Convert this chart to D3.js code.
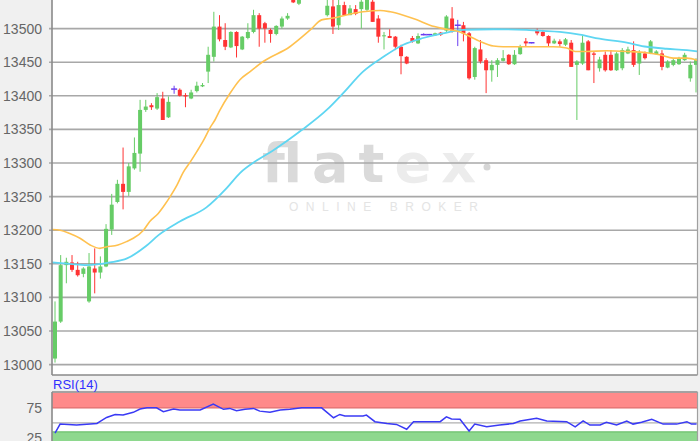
<!DOCTYPE html>
<html>
<head>
<meta charset="utf-8">
<script src="https://cdn.jsdelivr.net/npm/d3@7"></script>
<style>
  body { margin: 0; background: #f0f0f0; }
  svg { display: block; }
</style>
</head>
<body>
<div id="chart"></div>
<script>
// OHLC per candle
const opens = [13009,13064,13148,13152,13141,13135,13094,13143,13137,13146,13201,13242,13269,13257,13292,13314,13379,13386,13381,13396,
  13368,13410,13409,13401,13396,13407,13414,13436,13458,13503,13483,13472,13495,13469,13486,13495,13520,13508,13498,13492,
  13503,13515,13550,13537,13552,13562,13555,13565,13520,13533,13505,13535,13520,13529,13529,13528,13540,13515,13489,13489,
  13488,13473,13458,13486,13478,13491,13491,13490,13494,13497,13515,13505,13505,13493,13428,13469,13453,13438,13446,13452,
  13461,13447,13462,13481,13479,13498,13495,13489,13478,13481,13476,13479,13446,13448,13481,13463,13441,13461,13461,13438,
  13441,13463,13468,13448,13463,13463,13462,13463,13442,13446,13447,13453,13426,13446];
const highs = [13094,13163,13159,13163,13153,13145,13166,13173,13161,13209,13254,13275,13323,13300,13338,13394,13394,13389,13404,13406,
  13399,13415,13411,13404,13409,13421,13419,13473,13525,13520,13508,13496,13496,13489,13508,13528,13523,13510,13500,13505,
  13518,13523,13555,13560,13568,13570,13572,13570,13543,13543,13543,13540,13535,13535,13543,13550,13543,13520,13495,13499,
  13489,13476,13459,13489,13493,13493,13492,13494,13495,13520,13532,13513,13510,13495,13473,13483,13456,13453,13456,13468,
  13462,13468,13476,13486,13480,13500,13498,13490,13485,13484,13486,13483,13453,13490,13483,13466,13458,13466,13468,13465,
  13471,13473,13481,13468,13466,13483,13468,13468,13453,13456,13458,13464,13451,13456];
const lows = [13003,13062,13121,13138,13131,13130,13092,13106,13128,13145,13193,13240,13231,13251,13290,13287,13376,13379,13379,13364,
  13367,13403,13399,13383,13395,13405,13413,13419,13451,13481,13468,13471,13457,13468,13484,13493,13473,13479,13479,13490,
  13500,13513,13538,13535,13548,13550,13550,13545,13518,13492,13498,13519,13520,13520,13500,13525,13510,13479,13469,13486,
  13468,13432,13447,13479,13477,13490,13490,13489,13489,13495,13494,13474,13481,13424,13424,13448,13404,13421,13428,13451,
  13446,13446,13461,13473,13478,13490,13488,13473,13477,13473,13474,13443,13364,13446,13438,13419,13436,13436,13437,13437,
  13438,13462,13443,13431,13454,13462,13461,13438,13441,13444,13446,13452,13421,13405];
const closes = [13064,13148,13153,13141,13133,13143,13146,13137,13146,13202,13238,13269,13257,13295,13315,13379,13384,13383,13398,13364,
  13391,13410,13400,13399,13405,13415,13416,13461,13503,13484,13473,13495,13474,13488,13495,13520,13500,13500,13492,13504,
  13515,13519,13539,13554,13562,13555,13565,13548,13534,13503,13535,13520,13530,13522,13540,13546,13510,13488,13490,13486,
  13473,13459,13448,13481,13489,13491,13491,13493,13491,13518,13497,13505,13493,13426,13471,13451,13438,13446,13453,13456,
  13447,13461,13474,13478,13479,13493,13489,13478,13482,13477,13484,13443,13451,13479,13438,13461,13454,13438,13438,13463,
  13468,13469,13446,13464,13456,13481,13466,13443,13451,13453,13456,13461,13446,13453];

// moving averages as [candle index, value]
const maFast = [[-0.5,13201],[0.9,13200],[2.6,13195],[4.4,13188],[6.2,13178],[7.9,13173],[9,13175],[11.1,13178],[12.6,13183],
  [13.8,13188],[15.6,13200],[16.7,13213],[18.2,13225],[19.1,13235],[20.3,13250],[21.5,13267],[22.6,13286],[23.8,13301],
  [25,13317],[26.2,13334],[27.3,13352],[28.2,13364],[29.1,13379],[30.8,13403],[32.6,13424],[34.4,13436],[36.7,13451],
  [41.4,13473],[45,13498],[47,13513],[48.5,13515],[54.3,13525],[57.3,13527],[59.1,13525],[61.4,13520],[63.8,13513],
  [66.1,13505],[68.4,13500],[71.4,13495],[73.2,13488],[74.9,13481],[77.3,13474],[79,13473],[83.1,13473],[87.8,13473],
  [90.2,13471],[91.7,13466],[93.7,13466],[97.2,13467],[100.8,13466],[104.3,13464],[106.6,13461],[109,13456],[111.4,13456],[113.2,13453]];
const maSlow = [[-0.5,13152],[2.6,13150],[5.6,13148],[9.7,13152],[12.7,13158],[16,13176],[18.3,13193],[22,13213],
  [26.7,13234],[30.3,13263],[32.6,13285],[35.6,13304],[38.5,13319],[43.5,13349],[47.9,13379],[50.8,13404],[54.3,13436],
  [57.9,13458],[61.4,13476],[64.9,13486],[68.4,13493],[72,13498],[77.3,13499],[83.1,13498],[89,13495],[92.5,13491],
  [96,13485],[100.8,13479],[104.3,13473],[107.8,13470],[111.4,13468],[113.2,13466]];

// RSI(14) as [candle index, value]
const rsi = [[0,33],[0.9,48],[3.8,46.5],[7.4,49],[7.9,52],[9.1,59],[10.6,64],[12,63],[13.8,67.5],[15,73],[16.2,75],[17.9,75],
  [19.1,68.5],[20.9,73],[22,71.5],[25.6,71.5],[27.9,81],[29.7,72.5],[30.8,74],[32,70],[33.5,72.5],[35,74],[36.1,69.5],
  [37.9,67.5],[39.7,71.5],[41.4,72.5],[43.5,75],[47,75],[49.1,58.5],[50.2,64],[51.1,61.5],[54.3,61.5],[54.9,63],[56.4,52],
  [58.5,49],[60.2,47.5],[62,39.5],[63.2,52],[67.9,52],[69,60],[69.9,56.5],[71.4,56],[73,36.5],[74,48],[76.1,43.5],[78.4,46.5],
  [80.8,49],[82,53],[84.9,57.5],[86.7,53],[90.2,52],[91.7,43.5],[93.1,53.5],[94.3,46.5],[96.1,46.5],[97.2,51],[99,46.5],
  [100.8,53],[101.9,48],[103.4,51],[105.2,56],[107.2,48],[109.6,48],[111.4,52],[112.2,48],[113.1,48]];

const priceTicks = [13000,13050,13100,13150,13200,13250,13300,13350,13400,13450,13500,13550];
const rsiTicks = [25, 75];
const rsiHigh = [75, 100];
const rsiLow = [0, 35];

const W = 700, H = 441;
const plotL = 52, plotR = 697.5, plotT = -20, plotB = 375;
const rsiT = 392;

const svg = d3.select("#chart").append("svg")
  .attr("width", W).attr("height", H)
  .style("background", "#f0f0f0");

const x = d3.scaleLinear().domain([0, opens.length - 1]).range([55, 696]);
const y = d3.scaleLinear().domain([13000, 13500]).range([364.6, 28.6]);
const ry = d3.scaleLinear().domain([0, 100]).range([453.1, 392.7]);

svg.append("clipPath").attr("id", "clipMain")
  .append("rect").attr("x", plotL).attr("y", plotT).attr("width", plotR - plotL).attr("height", plotB - plotT);
svg.append("clipPath").attr("id", "clipRsi")
  .append("rect").attr("x", plotL).attr("y", rsiT).attr("width", plotR - plotL).attr("height", H - rsiT + 10);

// main panel background
svg.append("rect")
  .attr("x", plotL).attr("y", plotT).attr("width", plotR - plotL).attr("height", plotB - plotT)
  .attr("fill", "#fff");

// watermark
const wm = svg.append("g");
const logo = wm.append("text")
  .attr("x", 262).attr("y", 182)
  .attr("textLength", 214).attr("lengthAdjust", "spacing")
  .style("font-family", "'DejaVu Sans', sans-serif")
  .style("font-weight", "bold")
  .style("font-size", "54px");
logo.append("tspan").attr("fill", "#dadada").text("flat");
logo.append("tspan").attr("fill", "#ececec").text("ex");
wm.append("circle").attr("cx", 487).attr("cy", 167).attr("r", 3.5).attr("fill", "#d6d6d6");
wm.append("text")
  .attr("x", 289).attr("y", 211)
  .attr("textLength", 189).attr("lengthAdjust", "spacing")
  .attr("fill", "#e4e4e4")
  .style("font-family", "'Liberation Sans', Arial, sans-serif")
  .style("font-size", "12px")
  .text("ONLINE BROKER");

// gridlines
svg.append("g").selectAll("line")
  .data(priceTicks)
  .enter().append("line")
  .attr("x1", plotL - 3).attr("x2", plotR)
  .attr("y1", d => y(d)).attr("y2", d => y(d))
  .attr("stroke", "#a8a8a8").attr("stroke-width", 1.6);

// candles
const main = svg.append("g").attr("clip-path", "url(#clipMain)");
const idx = d3.range(opens.length);
const colorOf = i => closes[i] > opens[i] ? "#66cc66" : (closes[i] < opens[i] ? "#ff3333" : "#6a3cf0");

main.selectAll("line.wick")
  .data(idx).enter().append("line")
  .attr("class", "wick")
  .attr("x1", i => x(i)).attr("x2", i => x(i))
  .attr("y1", i => y(highs[i])).attr("y2", i => y(lows[i]))
  .attr("stroke", colorOf).attr("stroke-width", 1);

main.selectAll("rect.body")
  .data(idx.filter(i => opens[i] !== closes[i])).enter().append("rect")
  .attr("class", "body")
  .attr("x", i => x(i) - 2).attr("width", 4)
  .attr("y", i => y(Math.max(opens[i], closes[i])))
  .attr("height", i => Math.max(1, Math.abs(y(opens[i]) - y(closes[i]))))
  .attr("fill", colorOf);

main.selectAll("line.doji")
  .data(idx.filter(i => opens[i] === closes[i])).enter().append("line")
  .attr("class", "doji")
  .attr("x1", i => x(i) - 3).attr("x2", i => x(i) + 3)
  .attr("y1", i => y(opens[i])).attr("y2", i => y(opens[i]))
  .attr("stroke", colorOf).attr("stroke-width", 1.5);

// moving averages
const maLine = d3.line().x(d => x(d[0])).y(d => y(d[1])).curve(d3.curveMonotoneX);
main.append("path").datum(maSlow)
  .attr("d", maLine).attr("fill", "none")
  .attr("stroke", "#5fd6f2").attr("stroke-width", 1.8);
main.append("path").datum(maFast)
  .attr("d", maLine).attr("fill", "none")
  .attr("stroke", "#ffc14f").attr("stroke-width", 1.6);

// main border
svg.append("line").attr("x1", plotL).attr("x2", plotL).attr("y1", plotT).attr("y2", plotB)
  .attr("stroke", "#8a8a8a").attr("stroke-width", 1.6);
svg.append("line").attr("x1", plotL).attr("x2", plotR).attr("y1", plotB).attr("y2", plotB)
  .attr("stroke", "#8a8a8a").attr("stroke-width", 1.6);
svg.append("line").attr("x1", plotR).attr("x2", plotR).attr("y1", plotT).attr("y2", plotB)
  .attr("stroke", "#a0a0a0").attr("stroke-width", 1.2);

// price labels
svg.append("g").selectAll("text")
  .data(priceTicks).enter().append("text")
  .attr("x", 42).attr("y", d => y(d)).attr("dy", "0.36em")
  .attr("text-anchor", "end").attr("fill", "#666")
  .style("font-family", "'Liberation Sans', Arial, sans-serif")
  .style("font-size", "14px")
  .text(d => d);

// RSI panel
svg.append("rect")
  .attr("x", plotL).attr("y", rsiT).attr("width", plotR - plotL).attr("height", H - rsiT + 10)
  .attr("fill", "#fff");
const rp = svg.append("g").attr("clip-path", "url(#clipRsi)");
rp.append("rect")
  .attr("x", plotL).attr("width", plotR - plotL)
  .attr("y", ry(rsiHigh[1])).attr("height", ry(rsiHigh[0]) - ry(rsiHigh[1]))
  .attr("fill", "#ff8a8a");
rp.append("line").attr("x1", plotL).attr("x2", plotR)
  .attr("y1", ry(rsiHigh[0])).attr("y2", ry(rsiHigh[0]))
  .attr("stroke", "#e06a6a").attr("stroke-width", 1.2);
rp.append("rect")
  .attr("x", plotL).attr("width", plotR - plotL)
  .attr("y", ry(rsiLow[1])).attr("height", ry(rsiLow[0]) - ry(rsiLow[1]))
  .attr("fill", "#8ed88e");
rp.append("line").attr("x1", plotL).attr("x2", plotR)
  .attr("y1", ry(rsiLow[1])).attr("y2", ry(rsiLow[1]))
  .attr("stroke", "#6cc06c").attr("stroke-width", 1.2);
rp.append("line").attr("x1", plotL).attr("x2", plotR)
  .attr("y1", ry(50)).attr("y2", ry(50))
  .attr("stroke", "#b0b0b0").attr("stroke-width", 1.4);

const rsiLine = d3.line().x(d => x(d[0])).y(d => ry(d[1]));
rp.append("path").datum(rsi)
  .attr("d", rsiLine).attr("fill", "none")
  .attr("stroke", "#3a3af5").attr("stroke-width", 1.5);

svg.append("line").attr("x1", plotL).attr("x2", plotR).attr("y1", rsiT).attr("y2", rsiT)
  .attr("stroke", "#8a8a8a").attr("stroke-width", 1.4);
svg.append("line").attr("x1", plotL).attr("x2", plotL).attr("y1", rsiT).attr("y2", H)
  .attr("stroke", "#8a8a8a").attr("stroke-width", 1.6);
svg.append("line").attr("x1", plotR).attr("x2", plotR).attr("y1", rsiT).attr("y2", H)
  .attr("stroke", "#a0a0a0").attr("stroke-width", 1.2);

svg.append("g").selectAll("text")
  .data(rsiTicks).enter().append("text")
  .attr("x", 42).attr("y", d => ry(d)).attr("dy", "0.36em")
  .attr("text-anchor", "end").attr("fill", "#666")
  .style("font-family", "'Liberation Sans', Arial, sans-serif")
  .style("font-size", "14px")
  .text(d => d);

svg.append("text")
  .attr("x", 53).attr("y", 389)
  .attr("fill", "#2f2fff")
  .style("font-family", "'Liberation Sans', Arial, sans-serif")
  .style("font-size", "13px")
  .text("RSI(14)");
</script>
</body>
</html>
